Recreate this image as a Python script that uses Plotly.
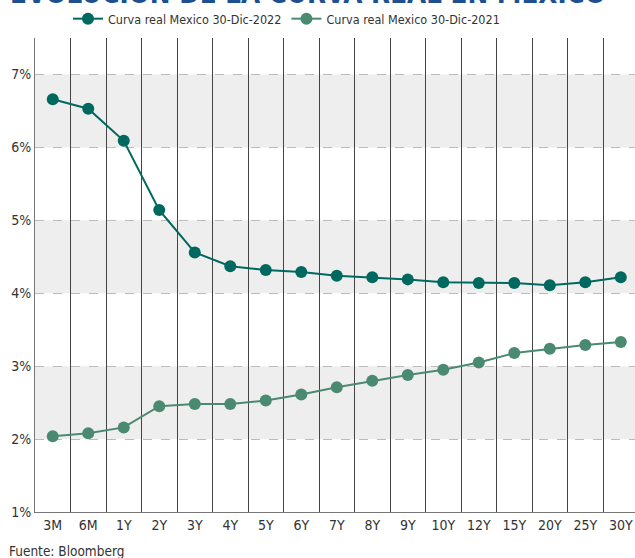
import plotly.graph_objects as go

tenors = ["3M", "6M", "1Y", "2Y", "3Y", "4Y", "5Y", "6Y", "7Y", "8Y", "9Y",
          "10Y", "12Y", "15Y", "20Y", "25Y", "30Y"]
curve_2022 = [6.66, 6.53, 6.09, 5.14, 4.56, 4.37, 4.32, 4.29, 4.24, 4.22, 4.19,
              4.15, 4.14, 4.14, 4.11, 4.15, 4.22]
curve_2021 = [2.04, 2.08, 2.16, 2.45, 2.48, 2.48, 2.53, 2.61, 2.71, 2.80, 2.88,
              2.95, 3.05, 3.18, 3.24, 3.29, 3.33]
y_ticks = [1, 2, 3, 4, 5, 6, 7]
bands = [(2, 3), (4, 5), (6, 7)]

FONT = "DejaVu Sans Condensed, sans-serif"
C22 = "#00695f"
C21 = "#4a8a70"

fig = go.Figure()
fig.add_trace(go.Scatter(x=tenors, y=curve_2022, mode="lines+markers",
                         name="Curva real Mexico 30-Dic-2022",
                         line=dict(color=C22, width=2),
                         marker=dict(color=C22, size=12)))
fig.add_trace(go.Scatter(x=tenors, y=curve_2021, mode="lines+markers",
                         name="Curva real Mexico 30-Dic-2021",
                         line=dict(color=C21, width=2),
                         marker=dict(color=C21, size=12)))

for lo, hi in bands:
    fig.add_shape(type="rect", xref="paper", x0=0, x1=1, yref="y", y0=lo, y1=hi,
                  fillcolor="#eeeeee", line_width=0, layer="below")

fig.add_annotation(text="<b>EVOLUCIÓN DE LA CURVA REAL EN MEXICO</b>", xref="paper", yref="paper",
                   x=0.455, y=1.058, xanchor="center", yanchor="bottom", showarrow=False,
                   font=dict(family=FONT, size=27.5, color="#1d4f91"))
fig.add_annotation(text="Fuente: Bloomberg", xref="paper", yref="paper",
                   x=-0.047, y=-0.062, xanchor="left", yanchor="top", showarrow=False,
                   font=dict(family=FONT, size=13.5, color="#333333"))

fig.update_layout(
    width=635, height=558,
    margin=dict(l=35, r=0, t=38, b=46, autoexpand=False),
    paper_bgcolor="white", plot_bgcolor="white",
    font=dict(family=FONT, size=14, color="#333333"),
    showlegend=True,
    legend=dict(orientation="h", x=0.055, y=1.04, xanchor="left", yanchor="middle",
                font=dict(family=FONT, size=12.5, color="#333333"),
                tracegroupgap=0, bgcolor="rgba(0,0,0,0)"),
    xaxis=dict(type="category", range=[-0.5, 16.4], tickson="boundaries",
               showgrid=True, gridcolor="#444444", gridwidth=1,
               ticks="", showline=True, linecolor="#777777", linewidth=1,
               tickfont=dict(size=14), fixedrange=True, automargin=False),
    yaxis=dict(range=[1, 7.5], tickvals=y_ticks, ticktext=[f"{v}%" for v in y_ticks],
               showgrid=True, gridcolor="#bbbbbb", griddash="dash", gridwidth=1,
               showline=True, linecolor="#777777", linewidth=1, zeroline=False,
               ticks="", tickfont=dict(size=14), automargin=False),
)

fig.write_html("out.html", config={"displayModeBar": False},
               post_script="document.body.style.margin='0';document.body.style.overflow='hidden';")
